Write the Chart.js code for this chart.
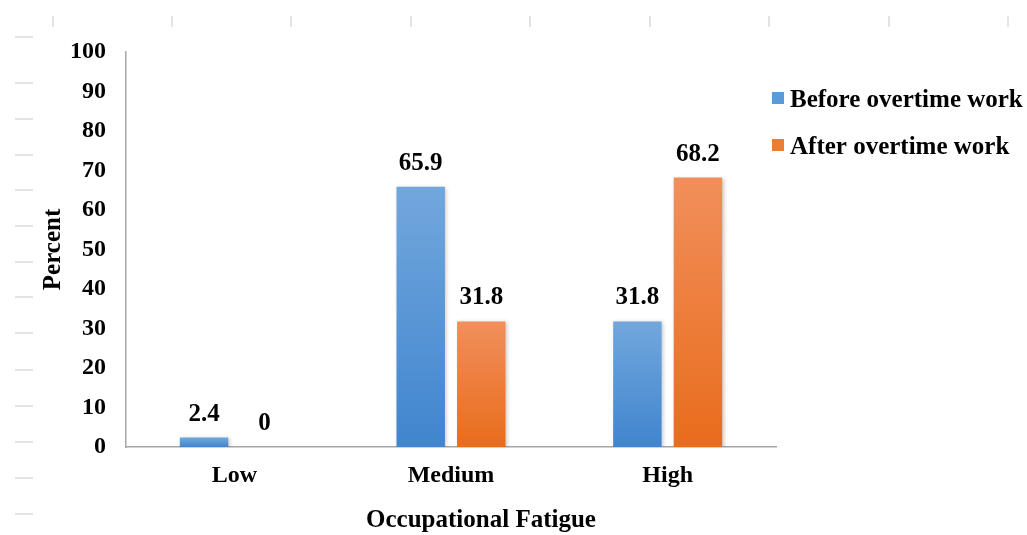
<!DOCTYPE html>
<html>
<head>
<meta charset="utf-8">
<title>Occupational Fatigue</title>
<script src="https://cdn.jsdelivr.net/npm/chart.js@4.4.1/dist/chart.umd.min.js"></script>
<style>
  html, body { margin: 0; padding: 0; background: #ffffff; }
  #wrap { width: 1027px; height: 535px; position: relative; }
  canvas { display: block; }
</style>
</head>
<body>
<div id="wrap"><canvas id="chart" width="1027" height="535"></canvas></div>
<script>
// ---- data ----
const categories = ['Low', 'Medium', 'High'];
const seriesNames = ['Before overtime work', 'After overtime work'];
const beforeOvertime = [2.4, 65.9, 31.8];
const afterOvertime = [0, 31.8, 68.2];
const yTickValues = [0, 10, 20, 30, 40, 50, 60, 70, 80, 90, 100];
const xAxisTitle = 'Occupational Fatigue';
const yAxisTitle = 'Percent';

// ---- styling ----
const FONT = "'Liberation Serif', 'Times New Roman', serif";
const AXIS_GRAY = '#a6a6a6';
const SERIES_STYLE = [
  { top: 'rgb(114,167,221)', bottom: 'rgb(64,133,206)', legend: '#5b9bd5' },
  { top: 'rgb(241,143,91)', bottom: 'rgb(233,108,28)', legend: '#ed7d31' }
];

// vertical gradient per bar, light at the top, darker at the base
function barGradient(ctx) {
  const chart = ctx.chart;
  const style = SERIES_STYLE[ctx.datasetIndex];
  const y = chart.scales && chart.scales.y;
  if (!chart.chartArea || !y || ctx.type !== 'data') return style.legend;
  const yTop = y.getPixelForValue(ctx.raw);
  const yBase = y.getPixelForValue(0);
  if (!(yBase - yTop > 0.5)) return style.legend;
  const g = chart.ctx.createLinearGradient(0, yTop, 0, yBase);
  g.addColorStop(0, style.top);
  g.addColorStop(1, style.bottom);
  return g;
}

// faint worksheet cell marks around the chart frame
const sheetMarks = {
  id: 'sheetMarks',
  beforeDraw(chart, args, opts) {
    const c = chart.ctx;
    c.save();
    c.strokeStyle = opts.color;
    c.lineWidth = 1.5;
    c.beginPath();
    opts.columns.forEach(x => { c.moveTo(x, opts.colTop); c.lineTo(x, opts.colBottom); });
    opts.rows.forEach(y => { c.moveTo(opts.rowLeft, y); c.lineTo(opts.rowRight, y); });
    c.stroke();
    c.restore();
  }
};

// soft drop shadow under the bars
const barShadow = {
  id: 'barShadow',
  beforeDatasetsDraw(chart) {
    const c = chart.ctx;
    c.save();
    c.shadowColor = 'rgba(0,0,0,0.22)';
    c.shadowBlur = 4;
    c.shadowOffsetX = 1.5;
    c.shadowOffsetY = 1;
  },
  afterDatasetsDraw(chart) {
    chart.ctx.restore();
  }
};

// value printed above each bar
const valueLabels = {
  id: 'valueLabels',
  afterDraw(chart, args, opts) {
    const c = chart.ctx;
    c.save();
    c.font = `bold ${opts.size}px ${FONT}`;
    c.fillStyle = '#000';
    c.textAlign = 'center';
    c.textBaseline = 'alphabetic';
    chart.data.datasets.forEach((ds, di) => {
      const meta = chart.getDatasetMeta(di);
      meta.data.forEach((bar, i) => {
        c.fillText(String(ds.data[i]), bar.x, bar.y - opts.gap);
      });
    });
    c.restore();
  }
};

// category-axis title, set a little right of the plot centre
const bottomTitle = {
  id: 'bottomTitle',
  afterDraw(chart, args, opts) {
    const c = chart.ctx;
    c.save();
    c.font = `bold ${opts.size}px ${FONT}`;
    c.fillStyle = '#000';
    c.textAlign = 'center';
    c.textBaseline = 'alphabetic';
    c.fillText(opts.text, opts.x, opts.baseline);
    c.restore();
  }
};

// legend to the right of the plot
const sideLegend = {
  id: 'sideLegend',
  afterDraw(chart, args, opts) {
    const c = chart.ctx;
    c.save();
    c.font = `bold ${opts.size}px ${FONT}`;
    c.textAlign = 'left';
    c.textBaseline = 'alphabetic';
    chart.data.datasets.forEach((ds, di) => {
      const top = opts.top + di * opts.step;
      c.fillStyle = SERIES_STYLE[di].legend;
      c.fillRect(opts.x, top, opts.box, opts.box);
      c.fillStyle = '#000';
      c.fillText(ds.label, opts.x + opts.box + opts.gap, top + opts.baseline);
    });
    c.restore();
  }
};

new Chart(document.getElementById('chart'), {
  type: 'bar',
  data: {
    labels: categories,
    datasets: [
      { label: seriesNames[0], data: beforeOvertime, backgroundColor: barGradient, borderWidth: 0,
        categoryPercentage: 0.559, barPercentage: 0.8 },
      { label: seriesNames[1], data: afterOvertime, backgroundColor: barGradient, borderWidth: 0,
        categoryPercentage: 0.559, barPercentage: 0.8 }
    ]
  },
  options: {
    responsive: false,
    devicePixelRatio: 1,
    animation: false,
    layout: { padding: { top: 52, left: 39, right: 251, bottom: 0 } },
    scales: {
      x: {
        afterFit(scale) { scale.height = 88; },
        grid: { display: false, drawTicks: false },
        border: { display: true, color: AXIS_GRAY, width: 1.5 },
        ticks: { color: '#000', padding: 14, font: { family: FONT, size: 24, weight: 'bold' } },
        title: { display: false }
      },
      y: {
        min: 0,
        max: 100,
        afterFit(scale) { scale.width = 87; },
        afterBuildTicks(scale) { scale.ticks = yTickValues.map(v => ({ value: v })); },
        grid: { display: false, drawTicks: false },
        border: { display: true, color: AXIS_GRAY, width: 1.5 },
        ticks: { color: '#000', padding: 20, font: { family: FONT, size: 24, weight: 'bold' } },
        title: {
          display: true,
          text: yAxisTitle,
          color: '#000',
          padding: { top: 0, bottom: 0 },
          font: { family: FONT, size: 25, weight: 'bold' }
        }
      }
    },
    plugins: {
      colors: { enabled: false },
      legend: { display: false },
      tooltip: { enabled: false },
      sheetMarks: {
        color: '#dcdcdc',
        columns: [53, 172, 291, 411, 530, 650, 769, 889, 1008],
        colTop: 16, colBottom: 27,
        rows: [37, 83, 119, 155, 190, 226, 262, 297, 333, 370, 406, 442, 478, 514],
        rowLeft: 15, rowRight: 33
      },
      valueLabels: { size: 25, gap: 17 },
      bottomTitle: { text: xAxisTitle, x: 481, baseline: 527, size: 25 },
      sideLegend: { x: 772, top: 92, step: 47, box: 12, gap: 6, size: 25, baseline: 15 }
    }
  },
  plugins: [sheetMarks, barShadow, valueLabels, bottomTitle, sideLegend]
});
</script>
</body>
</html>
